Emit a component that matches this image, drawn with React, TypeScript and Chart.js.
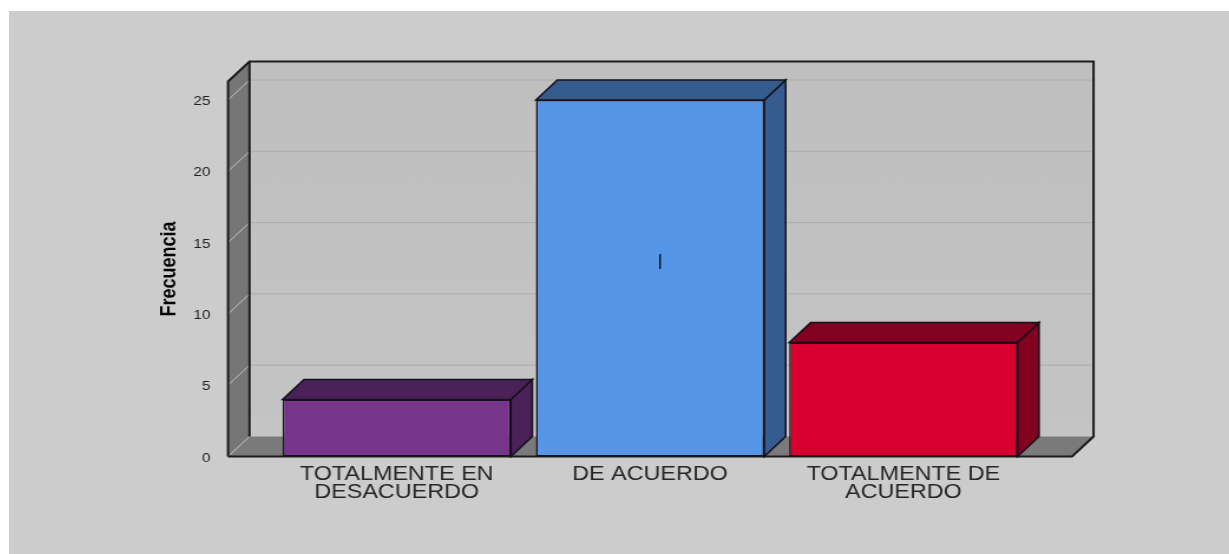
import React, { useEffect, useRef } from "react";
import { Chart, registerables } from "chart.js";

Chart.register(...registerables);

// Chart content
const categories = [["TOTALMENTE EN", "DESACUERDO"], "DE ACUERDO", ["TOTALMENTE DE", "ACUERDO"]];
const frequencies = [4, 25, 8];
const axisMax = 26.3;
const axisStep = 5;
const axisTitle = "Frecuencia";
const cursorMark = "|";

// Bar faces: front colour, then the darker top and side faces
const frontColors = ["#76348A", "#5596E6", "#D7002E"];
const shadeColors = ["#4A2158", "#355C8F", "#820020"];

// Logical canvas size; the element is widened by STRETCH along x
const STRETCH = 1.18;
const CANVAS_W = 1034;
const CANVAS_H = 543;

// Box depth and how far the floor runs past the outer categories
const DEPTH_X = 18.2;
const DEPTH_Y = 20;
const OVERHANG = 35.6;

const FONT = "'Liberation Sans', Arial, sans-serif";
const EDGE = "#1c1c1c";

function poly(ctx: CanvasRenderingContext2D, pts: number[][], fill?: any, stroke?: string, lw = 1) {
  ctx.beginPath();
  pts.forEach(([x, y], i) => (i ? ctx.lineTo(x, y) : ctx.moveTo(x, y)));
  if (fill) {
    ctx.closePath();
    ctx.fillStyle = fill;
    ctx.fill();
  }
  if (stroke) {
    ctx.strokeStyle = stroke;
    ctx.lineWidth = lw;
    ctx.stroke();
  }
}

// Draws the open box behind the bars and the top/side faces of each bar
const boxPlugin = {
  id: "box3d",
  beforeDatasetsDraw(chart: any) {
    const { ctx, chartArea, scales } = chart;
    const l = chartArea.left - OVERHANG;
    const r = chartArea.right + OVERHANG;
    const t = chartArea.top;
    const b = chartArea.bottom;
    const dx = DEPTH_X;
    const dy = DEPTH_Y;
    ctx.save();

    const wall = ctx.createLinearGradient(0, t - dy, 0, b - dy);
    wall.addColorStop(0, "#bfbfbf");
    wall.addColorStop(1, "#c4c4c4");
    poly(ctx, [[l + dx, t - dy], [r + dx, t - dy], [r + dx, b - dy], [l + dx, b - dy]], wall);
    poly(ctx, [[l, t], [l + dx, t - dy], [l + dx, b - dy], [l, b]], "#767676");
    poly(ctx, [[l, b], [l + dx, b - dy], [r + dx, b - dy], [r, b]], "#7a7a7a");

    for (const tick of scales.y.ticks) {
      const y = scales.y.getPixelForValue(tick.value);
      if (tick.value > 0) poly(ctx, [[l + dx, y - dy], [r + dx, y - dy]], undefined, "#adadad", 1);
      poly(ctx, [[l, y], [l + dx, y - dy]], undefined, "#c0c0c0", 1);
    }

    poly(ctx, [[l, b], [l, t], [l + dx, t - dy], [r + dx, t - dy], [r + dx, b - dy], [r, b], [l, b]], undefined, EDGE, 2);
    poly(ctx, [[l + dx, t - dy], [l + dx, b - dy]], undefined, EDGE, 2);

    chart.getDatasetMeta(0).data.forEach((bar: any, i: number) => {
      const x0 = bar.x - bar.width / 2;
      const x1 = bar.x + bar.width / 2;
      const y = bar.y;
      const base = bar.base;
      const shade = shadeColors[i];
      poly(ctx, [[x1, y], [x1 + dx, y - dy], [x1 + dx, base - dy], [x1, base]], shade, "#15101a", 1.5);
      poly(ctx, [[x0, y], [x0 + dx, y - dy], [x1 + dx, y - dy], [x1, y]], shade, "#15101a", 1.5);
    });
    ctx.restore();
  },
  afterDatasetsDraw(chart: any) {
    const { ctx } = chart;
    const bar = chart.getDatasetMeta(0).data[1];
    ctx.save();
    ctx.fillStyle = "#101010";
    ctx.font = `17px ${FONT}`;
    ctx.textAlign = "center";
    ctx.textBaseline = "middle";
    ctx.fillText(cursorMark, bar.x + 8.5, 250);
    ctx.restore();
  },
};

export default function App() {
  const ref = useRef<HTMLCanvasElement>(null);

  useEffect(() => {
    const chart = new Chart(ref.current!, {
      type: "bar",
      data: {
        labels: categories as any,
        datasets: [
          {
            data: frequencies,
            backgroundColor: frontColors,
            borderColor: "#15101a",
            borderWidth: 1.5,
            borderSkipped: false,
            barPercentage: 0.9014,
            categoryPercentage: 1,
          },
        ],
      },
      options: {
        responsive: false,
        animation: false,
        layout: { padding: { left: 125, right: 168.7, top: 70.5, bottom: 0 } },
        plugins: { legend: { display: false }, tooltip: { enabled: false } },
        scales: {
          x: {
            grid: { display: false },
            border: { display: false },
            afterFit: (s: any) => {
              s.height = 97.5;
            },
            ticks: {
              autoSkip: false,
              maxRotation: 0,
              minRotation: 0,
              padding: 1,
              color: "#262626",
              font: { family: FONT, size: 19.8, lineHeight: 0.9 },
            },
          },
          y: {
            min: 0,
            max: axisMax,
            grid: { display: false },
            border: { display: false },
            afterFit: (s: any) => {
              s.width = 96.2;
            },
            afterBuildTicks: (s: any) => {
              s.ticks = s.ticks.filter((t: any) => t.value % axisStep === 0);
            },
            ticks: {
              stepSize: axisStep,
              padding: 42.4,
              labelOffset: 1.5,
              color: "#222222",
              font: { family: FONT, size: 13 },
            },
            title: {
              display: true,
              text: axisTitle,
              color: "#000000",
              padding: 0,
              font: { family: FONT, size: 18, weight: "bold" },
            },
          },
        },
      },
      plugins: [boxPlugin],
    } as any);
    return () => chart.destroy();
  }, []);

  return (
    <div
      style={{
        position: "absolute",
        left: 9,
        top: 11,
        width: 1220,
        height: 543,
        overflow: "hidden",
        background: "#cccccc",
      }}
    >
      <canvas
        ref={ref}
        width={CANVAS_W}
        height={CANVAS_H}
        style={{ display: "block", transform: `scaleX(${STRETCH})`, transformOrigin: "0 0" }}
      />
    </div>
  );
}
